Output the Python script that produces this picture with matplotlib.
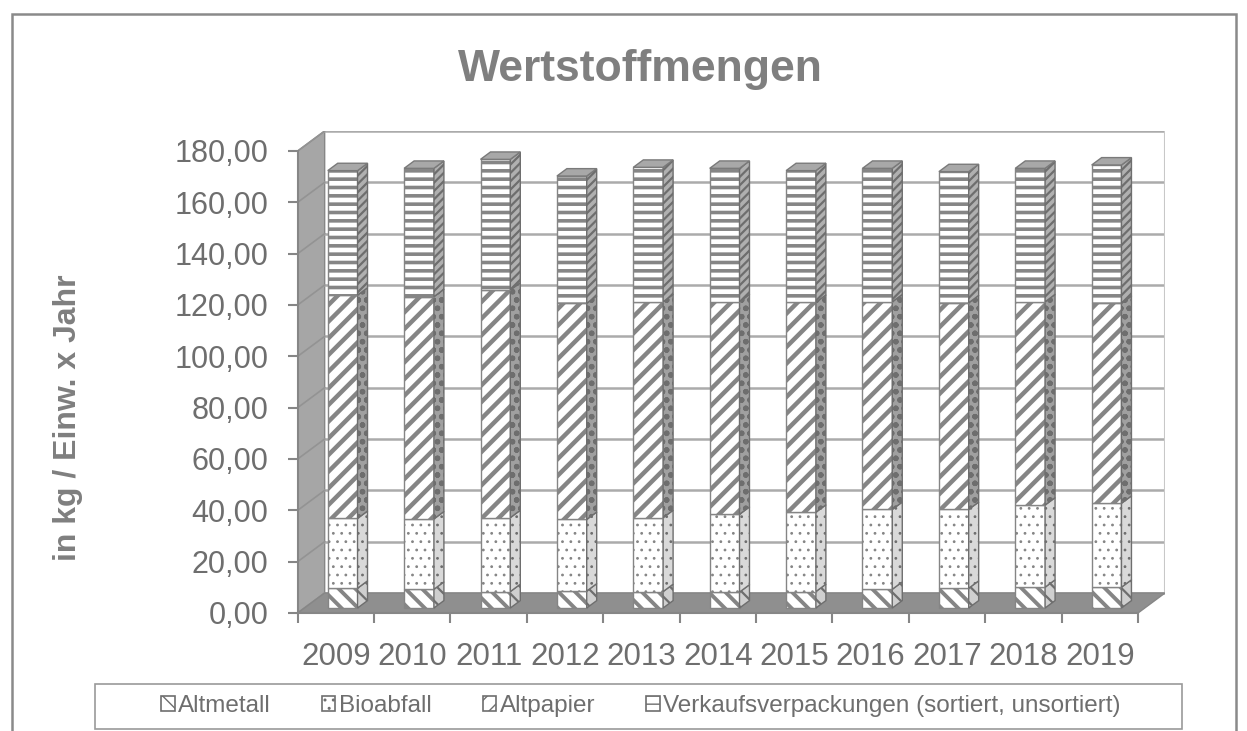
import numpy as np
import matplotlib as mpl
import matplotlib.pyplot as plt
from matplotlib.patches import Rectangle, Polygon

plt.rcParams['font.family'] = ['Liberation Sans', 'DejaVu Sans']

years = ['2009', '2010', '2011', '2012', '2013', '2014', '2015', '2016', '2017', '2018', '2019']
altmetall = [7.7, 7.3, 6.4, 6.6, 6.4, 6.2, 6.4, 7.3, 7.7, 8.1, 8.1]
bioabfall = [27.2, 27.4, 28.8, 27.9, 28.8, 30.3, 30.9, 31.1, 30.7, 32.0, 32.7]
altpapier = [87.0, 86.6, 88.7, 84.2, 84.1, 82.8, 81.8, 80.9, 80.5, 79.2, 77.9]
verpackungen = [48.5, 50.0, 50.9, 49.6, 52.4, 52.0, 51.3, 52.0, 51.1, 52.0, 53.9]
names = ['Altmetall', 'Bioabfall', 'Altpapier', 'Verkaufsverpackungen (sortiert, unsortiert)']

# look of each series: front hatch, side colour, side hatch, hatch width
styles = [
    dict(hatch='\\\\', side='#cfcfcf', side_hatch='\\\\', hlw=2.8),
    dict(hatch='..', side='#d9d9d9', side_hatch='..', hlw=0.8),
    dict(hatch='//', side='#a0a0a0', side_hatch='oo', hlw=3.2),
    dict(hatch='--', side='#b0b0b0', side_hatch='////', hlw=2.6),
]

GRAY = '#868686'
TXT = '#6e6e6e'
HATCH = '#858585'
DX, DY = 0.353, 7.79      # full depth of the 3d box (x in categories, y in values)
D0, D1 = 0.25, 0.62       # bar depth range
W = 0.39                  # bar width
YMAX = 180
n = len(years)


def hatched(patch, lw):
    try:
        patch.set_hatch_linewidth(lw)
    except AttributeError:
        pass
    return patch


fig = plt.figure(figsize=(12.47, 7.31), dpi=100)
ax = fig.add_axes([297.7 / 1247, 118 / 731, 867.3 / 1247, 482 / 731])
ax.set_xlim(0, n + DX)
ax.set_ylim(0, YMAX + DY)
ax.patch.set_visible(False)

# left wall with its gridlines
ax.add_patch(Polygon([(0, 0), (DX, DY), (DX, YMAX + DY), (0, YMAX)], closed=True,
                     facecolor='#a6a6a6', edgecolor=GRAY, lw=1, zorder=1))
for v in range(0, YMAX + 1, 20):
    ax.plot([0, DX], [v, v + DY], color='#939393', lw=1.2, zorder=1.5)
    ax.plot([DX, n + DX], [v + DY, v + DY], color='#ababab', lw=1.8, zorder=1)
ax.plot([n + DX, n + DX], [DY, YMAX + DY], color='#c8c8c8', lw=1.5, zorder=1)

# floor
ax.add_patch(Polygon([(0, 0), (n, 0), (n + DX, DY), (DX, DY)], closed=True,
                     facecolor='#8f8f8f', edgecolor=GRAY, lw=1, zorder=2))

series = [altmetall, bioabfall, altpapier, verpackungen]
bottoms = np.zeros(n)
for k, (vals, st) in enumerate(zip(series, styles)):
    vals = np.asarray(vals)
    mpl.rcParams['hatch.linewidth'] = st['hlw']
    for i in range(n):
        x0 = i + 0.5 - W / 2 + D0 * DX
        y0 = bottoms[i] + D0 * DY
        h = vals[i]
        front = Rectangle((x0, y0), W, h, facecolor='white', edgecolor=HATCH,
                          hatch=st['hatch'], lw=1, zorder=4)
        ax.add_patch(hatched(front, st['hlw']))
        xr = x0 + W
        ddx, ddy = (D1 - D0) * DX, (D1 - D0) * DY
        side = Polygon([(xr, y0), (xr + ddx, y0 + ddy), (xr + ddx, y0 + h + ddy), (xr, y0 + h)],
                       closed=True, facecolor=st['side'], edgecolor='#6e6e6e',
                       hatch=st['side_hatch'], lw=1, zorder=4)
        ax.add_patch(hatched(side, min(st['hlw'], 1.6)))
        if k == len(series) - 1:
            yt = y0 + h
            top = Polygon([(x0, yt), (xr, yt), (xr + ddx, yt + ddy), (x0 + ddx, yt + ddy)],
                          closed=True, facecolor='#a8a8a8', edgecolor='#7a7a7a', lw=1, zorder=4)
            ax.add_patch(top)
    bottoms += vals
mpl.rcParams['hatch.linewidth'] = 1.0

# axes
for s in ['top', 'right']:
    ax.spines[s].set_visible(False)
ax.spines['left'].set_bounds(0, YMAX)
ax.spines['bottom'].set_bounds(0, n)
for s in ['left', 'bottom']:
    ax.spines[s].set_color(GRAY)
    ax.spines[s].set_linewidth(1.5)
    ax.spines[s].set_zorder(5)

ax.set_yticks(range(0, YMAX + 1, 20))
ax.yaxis.set_major_formatter(lambda v, p: f'{v:.2f}'.replace('.', ','))
ax.tick_params(axis='y', length=7, width=1.5, color=GRAY, labelsize=22, labelcolor=TXT, pad=14)
ax.set_xticks(np.arange(n + 1), [''] * (n + 1))
ax.set_xticks(np.arange(n) + 0.5, years, minor=True)
ax.tick_params(axis='x', which='major', length=7, width=1.5, color=GRAY)
ax.tick_params(axis='x', which='minor', length=0, labelsize=22.5, labelcolor=TXT, pad=21)

fig.text(68 / 1247, 1 - 418 / 731, 'in kg / Einw. x Jahr', rotation=90, ha='center', va='center',
         fontsize=23, fontweight='bold', color='#7f7f7f')
fig.text(640 / 1247, 1 - 70 / 731, 'Wertstoffmengen', ha='center', va='center',
         fontsize=32, fontweight='bold', color='#7f7f7f')

# legend
handles = []
for st in styles:
    p = Rectangle((0, 0), 1, 1, facecolor='white', edgecolor='#6e6e6e', hatch=st['hatch'], lw=1.2)
    handles.append(hatched(p, 1.2))
leg = fig.legend(handles, names, loc='center', bbox_to_anchor=(641 / 1247, 1 - 706 / 731), ncol=4,
                 frameon=False, fontsize=17.5, handlelength=0.55, handleheight=0.55,
                 handletextpad=0.15, columnspacing=2.1, labelcolor=TXT)
fig.add_artist(Rectangle((95 / 1247, 1 - 729 / 731), 1087 / 1247, 45 / 731,
                         transform=fig.transFigure, facecolor='none', edgecolor='#9a9a9a', lw=1.2))

# chart border
fig.add_artist(Rectangle((12 / 1247, -0.02), 1224 / 1247, 1.02 - 14 / 731,
                         transform=fig.transFigure, facecolor='none', edgecolor='#8a8a8a', lw=1.8))

fig.savefig('out.png', dpi=100)
